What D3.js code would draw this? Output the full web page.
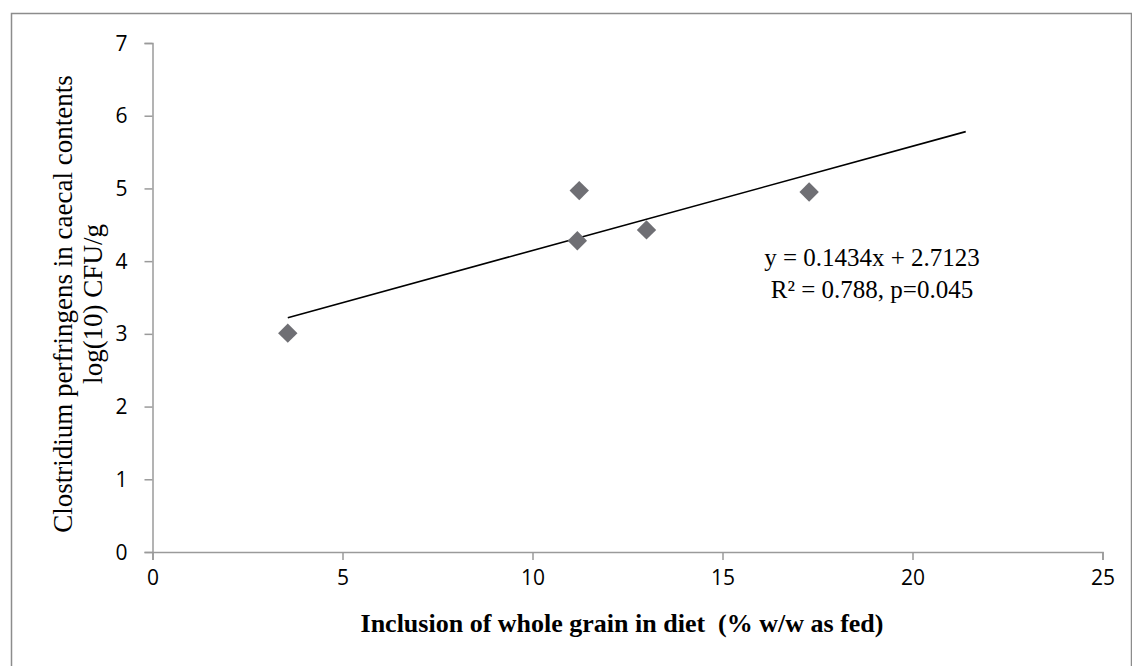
<!DOCTYPE html>
<html>
<head>
<meta charset="utf-8">
<script src="https://cdn.jsdelivr.net/npm/d3@7"></script>
<style>
  html, body { margin: 0; padding: 0; background: #fff; }
  svg { display: block; }
</style>
</head>
<body>
<svg id="chart" width="1132" height="666"></svg>
<script>
// Whole-grain inclusion (% w/w as fed) vs C. perfringens count, log10 CFU/g
const inclusion = [3.56, 11.23, 11.18, 13.0, 17.28];
const logCount  = [3.01, 4.97, 4.28, 4.43, 4.95];

// Linear trend reported on the chart
const trendSlope = 0.1434;
const trendIntercept = 2.7123;
const trendRange = [3.56, 21.4];

const xTicks = [0, 5, 10, 15, 20, 25];
const yTicks = [0, 1, 2, 3, 4, 5, 6, 7];

const equationLines = ["y = 0.1434x + 2.7123", "R\u00B2 = 0.788, p=0.045"];
const xTitle = "Inclusion of whole grain in diet  (% w/w as fed)";
const yTitleLines = ["Clostridium perfringens in caecal contents", "log(10) CFU/g"];

const svg = d3.select("#chart");
const serif = "'Liberation Serif', 'Times New Roman', serif";
const sans = "'Open Sans', 'DejaVu Sans', sans-serif";
const axisGrey = "#9a9a9a";

// Chart frame
svg.append("rect")
  .attr("x", 11.5).attr("y", 13.5)
  .attr("width", 1120).attr("height", 700)
  .attr("fill", "none")
  .attr("stroke", "#8c8c8c")
  .attr("stroke-width", 1.5);

const x = d3.scaleLinear().domain([0, 25]).range([152.5, 1102.5]);
const y = d3.scaleLinear().domain([0, 7]).range([552, 43]);

// X axis
const gx = svg.append("g")
  .attr("transform", `translate(0,${y(0)})`)
  .call(d3.axisBottom(x).tickValues(xTicks).tickSize(8).tickPadding(10).tickFormat(d3.format("d")));

// Y axis
const gy = svg.append("g")
  .attr("transform", `translate(${x(0)},0)`)
  .call(d3.axisLeft(y).tickValues(yTicks).tickSize(8).tickPadding(17).tickFormat(d3.format("d")));

[gx, gy].forEach(g => {
  g.select(".domain").attr("stroke", axisGrey).attr("stroke-width", 1.5);
  g.selectAll(".tick line").attr("stroke", axisGrey).attr("stroke-width", 1.5);
  g.selectAll(".tick text")
    .attr("fill", "#000")
    .style("font-family", sans)
    .style("font-size", "21px");
});
gy.selectAll(".tick text").attr("dy", "0.34em");

// Trend line
svg.append("line")
  .attr("x1", x(trendRange[0]))
  .attr("y1", y(trendSlope * trendRange[0] + trendIntercept))
  .attr("x2", x(trendRange[1]))
  .attr("y2", y(trendSlope * trendRange[1] + trendIntercept))
  .attr("stroke", "#000")
  .attr("stroke-width", 1.6);

// Diamond markers
const pts = inclusion.map((v, i) => ({ x: v, y: logCount[i] }));
const diamond = "M0,-9.7L9.7,0L0,9.7L-9.7,0Z";
svg.append("g").selectAll("path")
  .data(pts)
  .join("path")
  .attr("d", diamond)
  .attr("transform", d => `translate(${x(d.x)},${y(d.y)})`)
  .attr("fill", "#6f6f74");

// Regression equation
svg.append("g").selectAll("text")
  .data(equationLines)
  .join("text")
  .attr("x", 872)
  .attr("y", (d, i) => 266 + i * 32)
  .attr("text-anchor", "middle")
  .style("font-family", serif)
  .style("font-size", "25px")
  .text(d => d);

// Axis titles
svg.append("text")
  .attr("x", 622)
  .attr("y", 632)
  .attr("text-anchor", "middle")
  .style("font-family", serif)
  .style("font-size", "26px")
  .style("font-weight", "bold")
  .style("white-space", "pre")
  .text(xTitle);

svg.append("g")
  .attr("transform", "translate(0,304) rotate(-90)")
  .selectAll("text")
  .data(yTitleLines)
  .join("text")
  .attr("x", 0)
  .attr("y", (d, i) => 72 + i * 30)
  .attr("text-anchor", "middle")
  .style("font-family", serif)
  .style("font-size", "27px")
  .text(d => d);
</script>
</body>
</html>
